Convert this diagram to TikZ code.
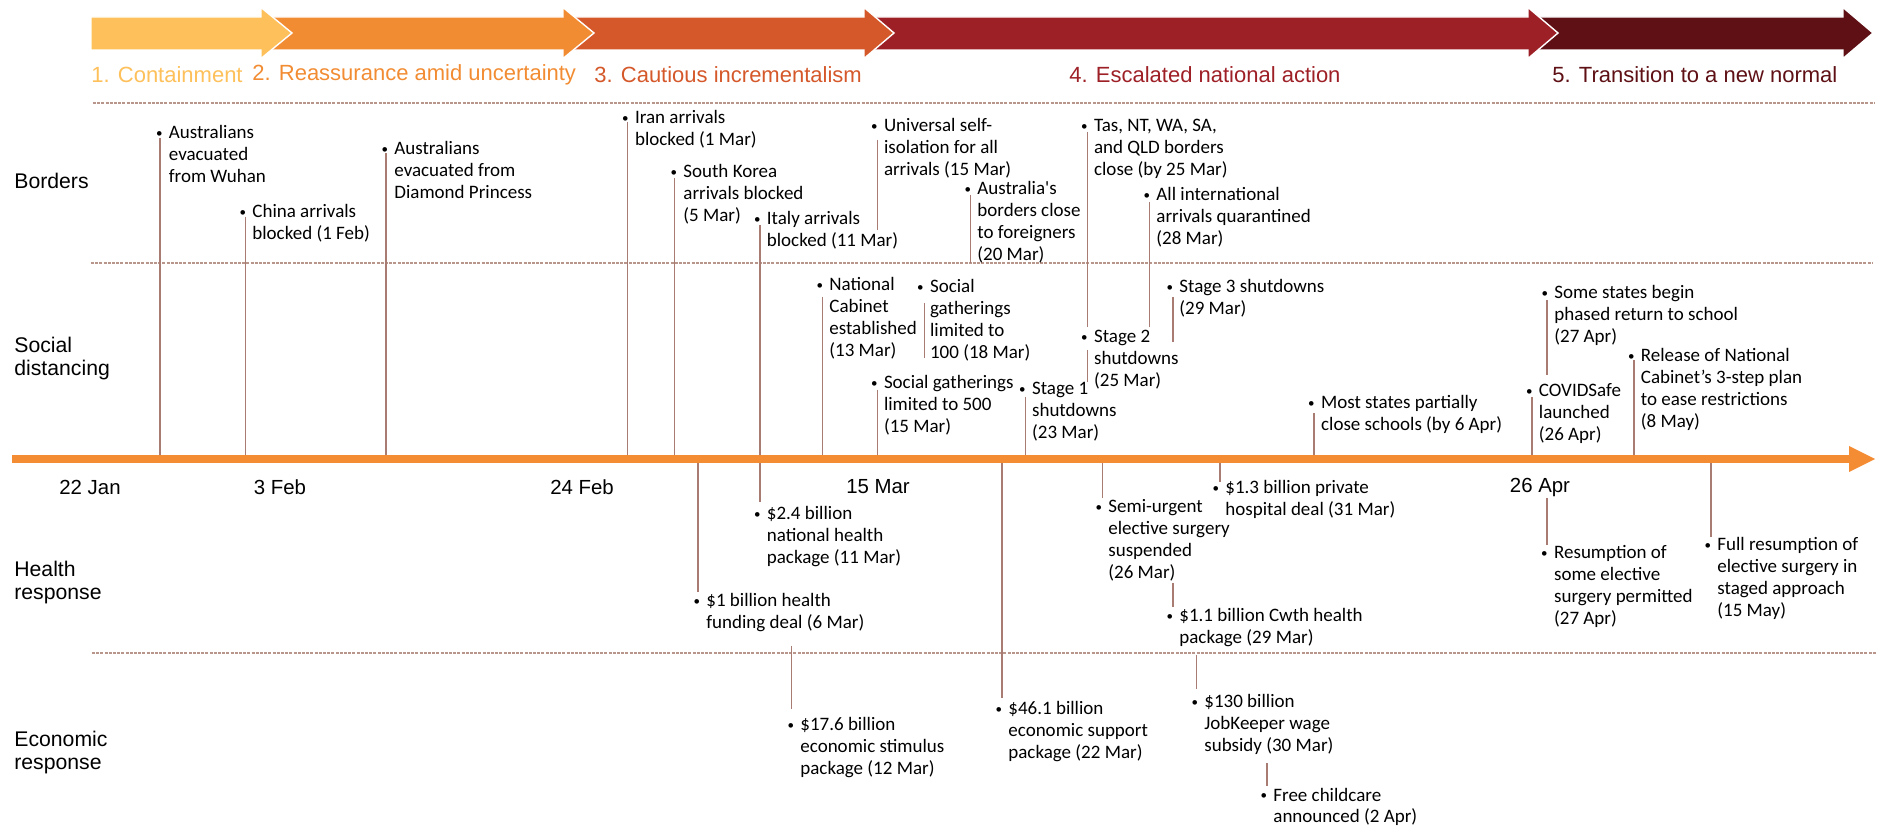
\documentclass[tikz,border=0pt]{standalone}
\usepackage{fontspec}
\setmainfont{Carlito}
\newfontfamily\arialf{Liberation Sans}
\definecolor{ph1}{RGB}{253,192,90}
\definecolor{ph2}{RGB}{242,140,51}
\definecolor{ph3}{RGB}{212,88,42}
\definecolor{ph4}{RGB}{158,32,39}
\definecolor{ph5}{RGB}{94,16,21}
\definecolor{axisc}{RGB}{244,140,52}
\definecolor{connc}{RGB}{168,124,114}
\definecolor{sepc}{RGB}{185,150,140}
\newcommand\evtext[1]{\llap{\raisebox{0.6pt}{\fontsize{6.5}{7}\selectfont •}\hspace{3.2pt}}\begin{tabular}[t]{@{}l@{}}#1\end{tabular}}
% name, text x, first baseline y, line x, line y1, line y2, text
\newcommand\tlev[7]{%
  \node[evbox] (#1) at (#2,#3) {\evtext{#7}};
  \coordinate (#1a) at (#4,#5);
  \coordinate (#1b) at (#4,#6);
  \draw[conn] (#1a) -- (#1b);
}
\newcommand\phasearrow[5]{%
  \filldraw[fill=#1, draw=white, line width=0.7pt] (#2,17) -- (#3,17) -- (#3,7.5) -- (#4,33) -- (#3,58.5) -- (#3,50) -- (#2,50) -- cycle;
}
\tikzset{
  evbox/.style={anchor=base west, inner sep=0pt, font=\fontsize{9.5}{10.85}\selectfont},
  conn/.style={draw=connc, line width=0.6pt},
  sep/.style={draw=sepc, line width=0.9pt, dash pattern=on 1.5pt off 0.6pt},
  phl/.style={anchor=west, inner sep=0pt, font=\arialf\fontsize{11}{13}\selectfont},
  catl/.style={anchor=west, inner sep=0pt, align=left, font=\arialf\fontsize{10.6}{11.5}\selectfont},
  datel/.style={anchor=center, inner sep=0pt, font=\arialf\fontsize{10.2}{12}\selectfont},
}
\begin{document}
\begin{tikzpicture}[x=0.5pt, y=-0.5pt]
\useasboundingbox (0,0) rectangle (1880,833);
% phase arrows (drawn last-first so earlier ones overlap)
\phasearrow{ph5}{1535}{1843}{1873}{}
\phasearrow{ph4}{870}{1528}{1558}{}
\phasearrow{ph3}{570}{864}{894}{}
\phasearrow{ph2}{270}{563}{594}{}
\phasearrow{ph1}{91}{261}{292}{}
% phase labels
\node[phl, text=ph1] (p1) at (91,75) {1. Containment};
\node[phl, text=ph2] (p2) at (252,75) {2. Reassurance amid uncertainty};
\node[phl, text=ph3] (p3) at (594,75) {3. Cautious incrementalism};
\node[phl, text=ph4] (p4) at (1069,75) {4. Escalated national action};
\node[phl, text=ph5] (p5) at (1552,75) {5. Transition to a new normal};
% separators
\draw[sep] (93,103) -- (1875,103);
\draw[sep] (91,263) -- (1873,263);
\draw[sep] (92,653) -- (1876,653);
% category labels
\node[catl] (cb) at (14,181) {Borders};
\node[catl] (cs) at (14,359) {Social\\distancing};
\node[catl] (ch) at (14,583) {Health\\response};
\node[catl] (ce) at (14,753) {Economic\\response};
% connectors and events (drawn before axis)
\tlev{e1}{168.5}{139}{160}{138}{459}{Australians\\evacuated\\from Wuhan}
\tlev{e2}{252}{218}{245.6}{217}{459}{China arrivals\\blocked (1 Feb)}
\tlev{e3}{394}{155}{386}{153}{459}{Australians\\evacuated from\\Diamond Princess}
\tlev{e4}{634.7}{124}{627.5}{122}{459}{Iran arrivals\\blocked (1 Mar)}
\tlev{e5}{683}{178}{674.7}{178}{459}{South Korea\\arrivals blocked\\(5 Mar)}
\tlev{e6}{766.5}{225}{760}{225}{459}{Italy arrivals\\blocked (11 Mar)}
\tlev{e7}{883.6}{132}{877.4}{140}{230}{Universal self-\\isolation for all\\arrivals (15 Mar)}
\tlev{e8}{977}{195}{970.5}{195}{263}{Australia\textquotesingle s\\borders close\\to foreigners\\(20 Mar)}
\tlev{e9}{1093.7}{132}{1087.6}{132}{327}{Tas, NT, WA, SA,\\and QLD borders\\close (by 25 Mar)}
\tlev{e10}{1156}{201}{1149.6}{202}{327}{All international\\arrivals quarantined\\(28 Mar)}
\tlev{e11}{829}{291}{822.8}{297}{459}{National\\Cabinet\\established\\(13 Mar)}
\tlev{e12}{929.7}{293}{924.4}{303}{358}{Social\\gatherings\\limited to\\100 (18 Mar)}
\tlev{e13}{883.6}{389}{877.4}{390}{459}{Social gatherings\\limited to 500\\(15 Mar)}
\tlev{e14}{1031.7}{395}{1025.5}{397}{459}{Stage 1\\shutdowns\\(23 Mar)}
\tlev{e15}{1093.7}{343}{1087.6}{350}{382}{Stage 2\\shutdowns\\(25 Mar)}
\tlev{e16}{1179}{293}{1173}{297}{342}{Stage 3 shutdowns\\(29 Mar)}
\tlev{e17}{1320.7}{409}{1314}{413}{459}{Most states partially\\close schools (by 6 Apr)}
\tlev{e18}{1538.5}{397}{1532}{397}{459}{COVIDSafe\\launched\\(26 Apr)}
\tlev{e19}{1554}{299}{1547}{300}{375}{Some states begin\\phased return to school\\(27 Apr)}
\tlev{e20}{1640.5}{362}{1634}{360}{459}{Release of National\\Cabinet’s 3-step plan\\to ease restrictions\\(8 May)}
\tlev{e21}{766.5}{520}{760}{459}{502}{\$2.4 billion\\national health\\package (11 Mar)}
\tlev{e22}{706}{607}{698}{459}{592}{\$1 billion health\\funding deal (6 Mar)}
\tlev{e23}{800}{731}{791.4}{646}{709}{\$17.6 billion\\economic stimulus\\package (12 Mar)}
\tlev{e24}{1008}{715}{1002}{459}{698}{\$46.1 billion\\economic support\\package (22 Mar)}
\tlev{e25}{1108}{513}{1102.7}{459}{498}{Semi-urgent\\elective surgery\\suspended\\(26 Mar)}
\tlev{e26}{1179}{622}{1173}{583}{607}{\$1.1 billion Cwth health\\package (29 Mar)}
\tlev{e27}{1204}{708}{1196.5}{655}{689}{\$130 billion\\JobKeeper wage\\subsidy (30 Mar)}
\tlev{e28}{1225}{494}{1220}{459}{482}{\$1.3 billion private\\hospital deal (31 Mar)}
\tlev{e29}{1273}{801}{1267}{763}{786}{Free childcare\\announced (2 Apr)}
\tlev{e30}{1553.7}{559}{1547}{498}{545}{Resumption of\\some elective\\surgery permitted\\(27 Apr)}
\tlev{e31}{1717}{551}{1711}{459}{537}{Full resumption of\\elective surgery in\\staged approach\\(15 May)}
% main axis
\coordinate (axL) at (12,459);
\coordinate (axH) at (1850,459);
\draw[axisc, line width=4.15pt] (axL) -- (axH);
\fill[axisc] (1849,446) -- (1875,459) -- (1849,472) -- cycle;
% date labels
\node[datel] (d1) at (90,487) {22 Jan};
\node[datel] (d2) at (280,487) {3 Feb};
\node[datel] (d3) at (582,487) {24 Feb};
\node[datel] (d4) at (878,487) {15 Mar};
\node[datel] (d5) at (1540,487) {26 Apr};
\end{tikzpicture}
\end{document}
